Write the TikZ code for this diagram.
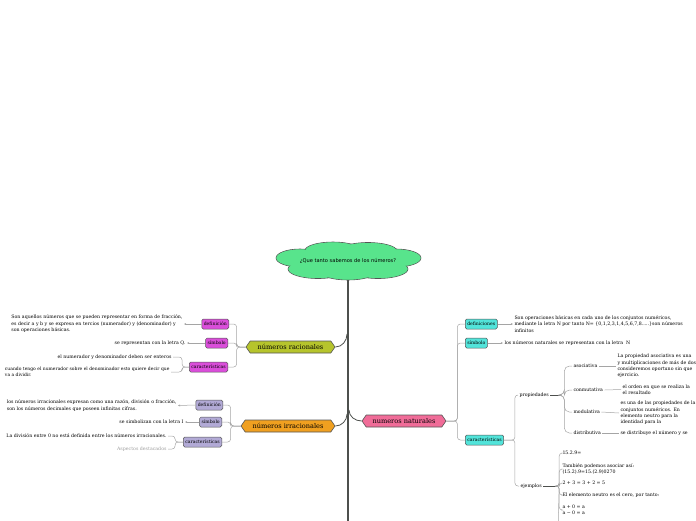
\documentclass[tikz,border=0pt]{standalone}
\usepackage{fontspec}
\setmainfont{DejaVu Serif}
\newfontfamily\cloudfont{DejaVu Sans}
\usetikzlibrary{shapes.symbols,arrows.meta}
\definecolor{cloudg}{RGB}{88,228,140}
\definecolor{racc}{RGB}{182,196,44}
\definecolor{irrc}{RGB}{240,160,32}
\definecolor{natc}{RGB}{240,108,152}
\definecolor{magc}{RGB}{218,78,218}
\definecolor{lavc}{RGB}{178,170,214}
\definecolor{cyac}{RGB}{82,228,218}
\definecolor{trunkc}{RGB}{77,80,77}
\definecolor{connc}{RGB}{165,165,165}
\definecolor{edgec}{RGB}{85,85,85}
\begin{document}
\begin{tikzpicture}[x=1pt,y=-1pt,
  txt/.style={font=\fontsize{4.7}{6.4}\selectfont, inner sep=0pt, outer sep=1.5pt, align=left},
  main/.style={signal, signal to=east and west, signal pointer angle=110, draw=edgec, line width=0.6pt, font=\fontsize{6.6}{7}\selectfont, minimum height=12pt, inner sep=1pt, inner xsep=3pt},
  box/.style={rounded corners=1.5pt, draw=edgec, line width=0.5pt, font=\fontsize{4.6}{5}\selectfont, minimum height=10pt, inner sep=1pt, inner xsep=2pt},
  conn/.style={draw=connc, line width=0.5pt, rounded corners=3pt},
  arr/.style={conn, -{Stealth[length=2.2pt,width=2pt]}},
  trunkl/.style={draw=trunkc, line width=0.8pt},
]
\useasboundingbox (0,0) rectangle (696,520);
\clip (0,0) rectangle (696,520);

% central idea: cloud drawn from overlapping ellipses
\def\cloudparts{300/258/24/9, 333/250.5/28/8.5, 368/251/29/8.5, 396/258/25/9, 318/269/30/9.5, 378/269/30/9.5, 348/271.5/28/8.5, 348/260/55/13}
\foreach \x/\y/\a/\b in \cloudparts {
  \draw[edgec, line width=0.6pt, fill=cloudg] (\x,\y) ellipse [x radius=\a, y radius=\b];
}
\foreach \x/\y/\a/\b in \cloudparts {
  \fill[cloudg] (\x,\y) ellipse [x radius=\a-0.6, y radius=\b-0.6];
}
\node[minimum width=145pt, minimum height=38pt, inner sep=0pt, font=\cloudfont\fontsize{5.1}{5.5}\selectfont] (cl) at (348,261) {¿Que tanto sabemos de los números?};
\coordinate (trunkend) at (348,530);
\draw[draw=trunkc, line width=2.6pt] (cl.south) -- (trunkend);

% main topics
\node[main, fill=racc, minimum width=89pt] (rac) at (290.5,347) {números racionales};
\node[main, fill=irrc, minimum width=94pt] (irr) at (288,426) {números irracionales};
\node[main, fill=natc, minimum width=84pt] (nat) at (404,421) {numeros naturales};
\coordinate (t1) at (347,334);
\coordinate (t2) at (347,414);
\coordinate (t3) at (349,410);
\draw[trunkl] (t1) to[out=-90,in=0] (rac.east);
\draw[trunkl] (t2) to[out=-90,in=0] (irr.east);
\draw[trunkl] (t3) to[out=-90,in=180] (nat.west);

% ---- racionales
\node[box, fill=magc, anchor=east] (rdef) at (229,324) {definición};
\node[box, fill=magc, anchor=east] (rsim) at (228,343) {símbolo};
\node[box, fill=magc, anchor=east] (rcar) at (228,367) {características};
\draw[conn] (rac.west) -- ++(-9,0) |- (rdef.east);
\draw[conn] (rac.west) -- ++(-9,0) |- (rsim.east);
\draw[conn] (rac.west) -- ++(-9,0) |- (rcar.east);
\node[txt, anchor=east] (rdeft) at (184,324) {Son aquellos números que se pueden representar en forma de fracción,\\es decir a y b y se expresa en tercios (numerador) y (denominador) y\\son operaciones básicas.};
\node[txt, anchor=east] (rsimt) at (187,343) {se representan con la letra Q.};
\draw[arr] (rdef.west) -- (rdeft.east);
\draw[arr] (rsim.west) -- (rsimt.east);
\node[txt, anchor=east] (rc1) at (173,357) {el numerador y denominador deben ser enteros};
\node[txt, anchor=east, font=\fontsize{4.5}{6.4}\selectfont] (rc2) at (171,372) {cuando tengo el numerador sobre el denominador esto quiere decir que\\va a dividir.};
\draw[conn] (rcar.west) -- ++(-7,0) |- (rc1.east);
\draw[conn] (rcar.west) -- ++(-7,0) |- (rc2.east);

% ---- irracionales
\node[box, fill=lavc, anchor=east] (idef) at (223,405) {definición};
\node[box, fill=lavc, anchor=east] (isim) at (222,422) {símbolo};
\node[box, fill=lavc, anchor=east] (icar) at (222,442) {características};
\draw[conn] (irr.west) -- ++(-10,0) |- (idef.east);
\draw[conn] (irr.west) -- ++(-10,0) |- (isim.east);
\draw[conn] (irr.west) -- ++(-10,0) |- (icar.east);
\node[txt, anchor=east] (ideft) at (178,405.5) {los números irracionales expresan como una razón, división o fracción,\\son los números decimales que poseen infinitas cifras.};
\node[txt, anchor=east] (isimt) at (185,422) {se simbolizan con la letra I};
\draw[arr] (idef.west) -- (ideft.east);
\draw[arr] (isim.west) -- (isimt.east);
\node[txt, anchor=east] (ic1) at (168,436) {La división entre 0 no está definida entre los números irracionales.};
\node[txt, anchor=east, text=gray!75] (ic2) at (168,449) {Aspectos destacados};
\draw[conn] (icar.west) -- ++(-8,0) |- (ic1.east);
\draw[conn] (icar.west) -- ++(-8,0) |- (ic2.east);

% ---- naturales
\node[box, fill=cyac, anchor=west] (ndef) at (465,324) {definiciones};
\node[box, fill=cyac, anchor=west] (nsim) at (465,343) {símbolo};
\node[box, fill=cyac, anchor=west] (ncar) at (465,440) {características};
\draw[conn] (nat.east) -- ++(11,0) |- (ndef.west);
\draw[conn] (nat.east) -- ++(11,0) |- (nsim.west);
\draw[conn] (nat.east) -- ++(11,0) |- (ncar.west);
\node[txt, anchor=west] (ndeft) at (513,324) {Son operaciones básicas en cada uno de los conjuntos numéricos,\\mediante la letra N por tanto N= \{0,1,2,3,1,4,5,6,7,8.....\}son números\\infinitos};
\node[txt, anchor=west] (nsimt) at (503,343) {los números naturales se representan con la letra~~N};
\draw[arr] (ndef.east) -- (ndeft.west);
\draw[arr] (nsim.east) -- (nsimt.west);

\node[txt, anchor=west] (prop) at (518,395) {propiedades};
\node[txt, anchor=west] (ejem) at (519,486) {ejemplos};
\draw[conn] (ncar.east) -- ++(11,0) |- (prop.west);
\draw[conn] (ncar.east) -- ++(11,0) |- (ejem.west);

% propiedades
\draw[trunkl] (prop.east) -- ++(11,0) coordinate (pb);
\node[txt, anchor=west] (asoc) at (572,366) {asociativa};
\node[txt, anchor=west] (conm) at (572,390) {conmutativa};
\node[txt, anchor=west] (modu) at (572,412) {modulativa};
\node[txt, anchor=west] (dist) at (572,433) {distributiva};
\foreach \c in {asoc,conm,modu,dist}{
  \draw[conn, rounded corners=5pt] (pb) -- ++(3,0) |- (\c.west);
}
\node[txt, anchor=west] (asoct) at (616,366) {La propiedad asociativa es una\\y multiplicaciones de más de dos\\consideremos oportuno sin que\\ejercicio.};
\node[txt, anchor=west] (conmt) at (621,389.5) {el orden en que se realiza la\\el resultado};
\node[txt, anchor=west] (modut) at (619,413) {es una de las propiedades de la\\conjuntos numéricos. En\\elemento neutro para la\\identidad para la};
\node[txt, anchor=west] (distt) at (619,433) {se distribuye el número y se};
\draw[conn] (asoc.east) -- (asoct.west);
\draw[conn] (conm.east) -- (conmt.west);
\draw[conn] (modu.east) -- (modut.west);
\draw[conn] (dist.east) -- (distt.west);

% ejemplos
\draw[trunkl] (ejem.east) -- ++(14,0) coordinate (eb);
\node[txt, anchor=west] (e1) at (561,453) {15.2.9=};
\node[txt, anchor=west] (e2) at (561,469) {También podemos asociar así:\\(15.2).9=15.(2.9)0270};
\node[txt, anchor=west] (e3) at (561,483) {2 + 3 = 3 + 2 = 5};
\node[txt, anchor=west] (e4) at (561,495) {El elemento neutro es el cero, por tanto:};
\node[txt, anchor=west] (e5) at (561,510) {a + 0 = a\\a − 0 = a};
\coordinate (ebot) at (558,530);
\foreach \c in {e1,e2,e3,e4,e5}{
  \draw[conn, rounded corners=3pt] (eb) -- ++(2,0) |- (\c.west);
}
\draw[conn] (eb) -- ++(2,0) -- (ebot);
\end{tikzpicture}
\end{document}
